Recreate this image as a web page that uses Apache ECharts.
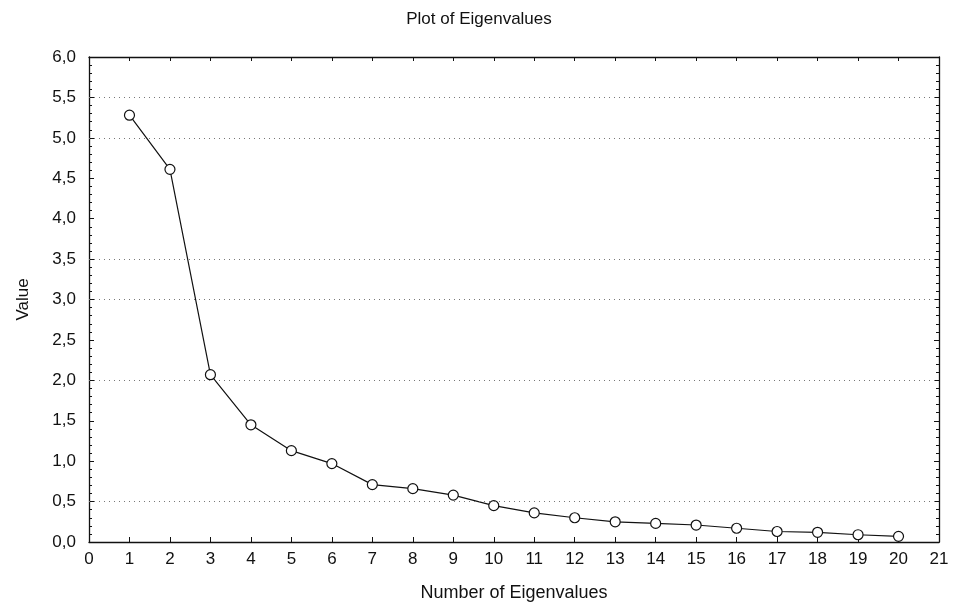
<!DOCTYPE html>
<html>
<head>
<meta charset="utf-8">
<script src="https://cdn.jsdelivr.net/npm/echarts@6/dist/echarts.min.js"></script>
<style>
html,body{margin:0;padding:0;background:#fff;}
#chart{width:958px;height:602px;}
</style>
</head>
<body>
<div id="chart"></div>
<script>
// Data
const eigenNumbers = [1,2,3,4,5,6,7,8,9,10,11,12,13,14,15,16,17,18,19,20];
const eigenValues = [5.28,4.61,2.07,1.45,1.13,0.97,0.71,0.66,0.58,0.45,0.36,0.30,0.25,0.23,0.21,0.17,0.13,0.12,0.09,0.07];
const gridValues = [0.5, 2.0, 3.0, 3.5, 5.0, 5.5];
const titleText = 'Plot of Eigenvalues';
const xTitle = 'Number of Eigenvalues';
const yTitle = 'Value';

const font = '"Liberation Sans", Arial, sans-serif';
const chart = echarts.init(document.getElementById('chart'), null, {renderer:'canvas'});
const fmt = v => v.toFixed(1).replace('.', ',');

chart.setOption({
  animation: false,
  backgroundColor: '#fff',
  title: {
    text: titleText, left: 'center', top: 6,
    textStyle: {fontFamily: font, fontSize: 17, fontWeight: 'normal', color: '#111'}
  },
  grid: {left: 89, right: 19, top: 57, bottom: 60, containLabel: false, outerBoundsMode: 'none'},
  xAxis: [{
    type: 'value', min: 0, max: 21, interval: 1,
    name: xTitle, nameLocation: 'middle', nameGap: 42,
    nameTextStyle: {fontFamily: font, fontSize: 18, color: '#111'},
    axisLine: {show: true, onZero: false, lineStyle: {color: '#111', width: 1.3}},
    axisTick: {show: true, inside: true, length: 5, lineStyle: {color: '#111'}},
    axisLabel: {fontFamily: font, fontSize: 17, color: '#111', margin: 9},
    splitLine: {show: false}
  }, {
    type: 'value', position: 'top', min: 0, max: 21, interval: 1,
    axisLine: {show: true, onZero: false, lineStyle: {color: '#111', width: 1.3}},
    axisTick: {show: true, inside: true, length: 4, lineStyle: {color: '#111'}},
    axisLabel: {show: false},
    splitLine: {show: false}
  }],
  yAxis: [{
    type: 'value', min: 0, max: 6, interval: 0.5,
    name: yTitle, nameLocation: 'middle', nameGap: 57,
    nameTextStyle: {fontFamily: font, fontSize: 17, color: '#111'},
    axisLine: {show: true, onZero: false, lineStyle: {color: '#111', width: 1.3}},
    axisTick: {show: true, inside: true, length: 5, lineStyle: {color: '#111'}},
    minorTick: {show: true, splitNumber: 5, length: 3, lineStyle: {color: '#111'}},
    axisLabel: {fontFamily: font, fontSize: 17, color: '#111', margin: 13, formatter: fmt},
    splitLine: {show: false}
  }, {
    type: 'value', position: 'right', min: 0, max: 6, interval: 0.5,
    axisLine: {show: true, onZero: false, lineStyle: {color: '#111', width: 1.3}},
    axisTick: {show: true, inside: true, length: 5, lineStyle: {color: '#111'}},
    minorTick: {show: true, splitNumber: 5, length: 3, lineStyle: {color: '#111'}},
    axisLabel: {show: false},
    splitLine: {show: false}
  }],
  series: [{
    type: 'line',
    data: eigenNumbers.map((n, i) => [n, eigenValues[i]]),
    symbol: 'circle', symbolSize: 10,
    itemStyle: {color: '#fff', borderColor: '#111', borderWidth: 1.2},
    lineStyle: {color: '#111', width: 1.2},
    markLine: {
      silent: true, symbol: 'none', label: {show: false},
      lineStyle: {color: '#777', type: [1, 4], width: 1},
      data: gridValues.map(v => ({yAxis: v}))
    },
    z: 3
  }]
});
</script>
</body>
</html>
